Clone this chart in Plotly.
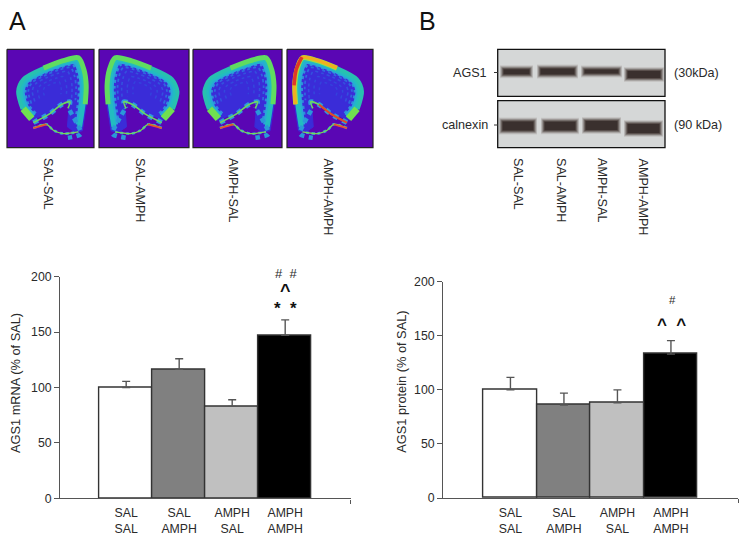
import plotly.graph_objects as go

W, H = 743, 536

# ---------- data ----------
groups = ["SAL<br>SAL", "SAL<br>AMPH", "AMPH<br>SAL", "AMPH<br>AMPH"]
group_pos = [0, 1, 2, 3]
bar_colors = ["#ffffff", "#808080", "#c0c0c0", "#000000"]
mrna_values = [100, 116.5, 83, 147]
mrna_errors = [5.5, 9.5, 6, 14]
protein_values = [100, 86, 88, 133]
protein_errors = [11.5, 11, 12, 12.5]
y_ticks = [0, 50, 100, 150, 200]
rotated_labels = ["SAL-SAL", "SAL-AMPH", "AMPH-SAL", "AMPH-AMPH"]

INK = "#2a2a2a"
AXIS = "#555555"
FONT = "Liberation Sans, Arial, sans-serif"

fig = go.Figure()


def bars(vals, errs, xa, ya):
    fig.add_trace(go.Bar(
        x=group_pos, y=vals, width=1, marker=dict(color=bar_colors, line=dict(color="#333333", width=1.4)),
        error_y=dict(type="data", symmetric=False, array=errs, arrayminus=[0, 0, 0, 0],
                     color="#555555", thickness=1.4, width=4),
        xaxis=xa, yaxis=ya, showlegend=False, hoverinfo="skip"))


bars(mrna_values, mrna_errors, "x", "y")
bars(protein_values, protein_errors, "x2", "y2")


# ---------- autoradiograph panels (pixel overlay) ----------
def pix(xs, ys, color, width, dash="solid"):
    fig.add_trace(go.Scatter(
        x=xs, y=ys, mode="lines", line=dict(color=color, width=width, dash=dash, shape="spline", smoothing=0.8),
        xaxis="x3", yaxis="y3", showlegend=False, hoverinfo="skip"))


cortex = [(.264, .73), (.157, .62), (.103, .43), (.169, .296), (.414, .177), (.644, .099),
          (.839, .065), (.908, .194), (.935, .364), (.923, .568), (.877, .84)]
stripe = [(.303, .745), (.494, .653), (.628, .561), (.724, .534), (.70, .60)]
lower = [(.303, .80), (.456, .762), (.533, .823), (.648, .857), (.82, .84)]
tail = [(.72, .62), (.80, .75), (.85, .86), (.70, .90)]
boxes = [(7, 94, False, False), (99, 189, True, False), (193, 282, False, False), (287, 373, True, True)]
BT, BB = 49.3, 147.7
CENTER = (.52, .42)


def seg(points, box, mirror, k=1.0):
    x0, x1 = box
    pts = [(CENTER[0] + (u - CENTER[0]) * k, CENTER[1] + (v - CENTER[1]) * k) for u, v in points]
    xs = [x0 + ((1 - u) if mirror else u) * (x1 - x0) for u, _ in pts]
    ys = [BT + v * (BB - BT) for _, v in pts]
    return xs, ys


for x0, x1, mirror, hot in boxes:
    b = (x0, x1)
    xs = [x0, x1, x1, x0, x0]
    ys = [BT, BT, BB, BB, BT]
    fig.add_trace(go.Scatter(x=xs, y=ys, mode="lines", line=dict(color="#222222", width=1.2),
                             fill="toself", fillcolor="#5a06b4", xaxis="x3", yaxis="y3",
                             showlegend=False, hoverinfo="skip"))
    cx, cy = seg(cortex + [(.80, .86), (.70, .80), (.724, .534), (.628, .561), (.494, .653), (.264, .73)], b, mirror, .97)
    fig.add_trace(go.Scatter(x=cx, y=cy, mode="lines", line=dict(color="#3a2cd8", width=1),
                             fill="toself", fillcolor="#3a2cd8", xaxis="x3", yaxis="y3",
                             showlegend=False, hoverinfo="skip"))
    for k, col, w in ((.25, "#3442dc", 1.5), (.4, "#3448dc", 1.5), (.55, "#3450de", 1.6), (.66, "#2f68e0", 1.8)):
        sx, sy = seg(cortex[1:10], b, mirror, k)
        pix(sx, sy, col, w, "dot")
    sx, sy = seg(cortex, b, mirror, .75)
    pix(sx, sy, "#2f8cdc", 3, "dot")
    sx, sy = seg(cortex, b, mirror, .82)
    pix(sx, sy, "#28a8d8", 4.5)
    sx, sy = seg(cortex, b, mirror, .88)
    pix(sx, sy, "#22bcc0", 5)
    # outer rim: blue-cyan on the lateral arc, green at the tip and on the top/medial side
    sx, sy = seg(cortex[1:5], b, mirror, .94)
    pix(sx, sy, "#28c0b0", 4)
    sx, sy = seg(cortex[:2], b, mirror, .92)
    pix(sx, sy, "#70e050", 7)
    sx, sy = seg(cortex[4:10], b, mirror, .94)
    pix(sx, sy, "#60dc60" if not hot else "#a0e040", 5)
    sx, sy = seg(stripe, b, mirror)
    pix(sx, sy, "#2f9adc", 5, "dot")
    pix(sx, sy, "#6cd860", 1.6)
    lx, ly = seg(lower, b, mirror)
    pix(lx, ly, "#2f9adc", 2.6, "dot")
    pix(lx, ly, "#78d858", 1.3)
    tx, ty = seg(tail, b, mirror)
    pix(tx, ty, "#2a98d8", 4.5, "dot")
    rx, ry = seg(lower[:2], b, mirror)
    pix(rx, ry, "#e85030", 1.8)
    if hot:
        hx, hy = seg(cortex[4:10], b, mirror, .95)
        pix(hx, hy, "#f0b020", 3.5)
        hx, hy = seg(cortex[6:9], b, mirror, .96)
        pix(hx, hy, "#e03828", 3.5)
        hx, hy = seg(stripe[:3], b, mirror)
        pix(hx, hy, "#e04828", 2.2)

# ---------- western blots ----------
blot_boxes = [(49.3, 96.3), (100.7, 147.7)]
for t, bt in blot_boxes:
    fig.add_shape(type="rect", x0=497.7, x1=665, y0=t, y1=bt, xref="x3", yref="y3", layer="below",
                  fillcolor="#d5d7d7", line=dict(color="#111111", width=1.3))

ags_lanes = [(500, 533, 71.8, 6), (537, 578, 71.5, 7), (581, 622, 71.5, 5), (624, 664, 74.5, 8)]
cal_lanes = [(499, 537, 126, 10), (541, 579, 126, 9.5), (582, 621, 125.5, 10), (624, 663, 128.5, 10)]
LAYERS = [(7, 0, "#c6c5c4"), (5, .5, "#a8a5a3"), (3, 1.5, "#7f7976"), (1.2, 2.5, "#5a504d"), (-1, 3.5, "#3a302e")]
for lanes in (ags_lanes, cal_lanes):
    for a, c, y, th in lanes:
        for extra, inset, col in LAYERS:
            fig.add_trace(go.Scatter(x=[a + inset, c - inset], y=[y, y], mode="lines",
                                     line=dict(color=col, width=max(th + extra, 1)),
                                     xaxis="x3", yaxis="y3", showlegend=False, hoverinfo="skip"))

# ---------- text ----------
ann = []


def text(x, y, s, size=12.6, xanchor="center", yanchor="middle", angle=0, color=INK):
    ann.append(dict(x=x, y=y, xref="x3", yref="y3", text=s, showarrow=False, xanchor=xanchor, yanchor=yanchor,
                    textangle=angle, font=dict(family=FONT, size=size, color=color)))


text(7, 21, "A", 25, "left", color="#111111")
text(417, 21, "B", 25, "left", color="#111111")
for x, s in zip([48, 140, 233, 328], rotated_labels):
    text(x, 156, s, 12.6, yanchor="top", angle=90)
for x, s in zip([518, 561, 602, 643], rotated_labels):
    text(x, 156, s, 12.6, yanchor="top", angle=90)
text(489, 72.5, "AGS1", 12.6, "right")
text(489.5, 125, "calnexin", 12.6, "right")
text(672, 72.5, "(30kDa)", 12.6, "left")
text(672, 125, "(90 kDa)", 12.6, "left")
text(15, 383, "AGS1 mRNA (% of SAL)", 12.8, angle=-90)
text(400.7, 382, "AGS1 protein (% of SAL)", 12.8, angle=-90)
text(285.7, 273.5, "#&nbsp;&nbsp;#", 13)
text(285.5, 291, "<b>^</b>", 18, color="#111111")
text(285.7, 308, "<b>*&nbsp;&nbsp;*</b>", 17, color="#111111")
text(672.7, 300, "#", 11.5)
text(671.7, 324, "<b>^&nbsp;&nbsp;^</b>", 17, color="#111111")

for y in (72.5, 125):
    fig.add_shape(type="line", x0=494, x1=498, y0=y, y1=y, xref="x3", yref="y3", line=dict(color="#333333", width=1))


def xaxis(px0, px1, left, right):
    return dict(domain=[px0 / W, px1 / W], range=[left, right], tickvals=group_pos, ticktext=groups,
                ticks="", ticklabelstandoff=3, showgrid=False, zeroline=False, showline=True, automargin=False,
                linecolor=AXIS, linewidth=1.4, tickfont=dict(family=FONT, size=12.3, color=INK),
                minor=dict(tickvals=[right], ticks="outside", ticklen=4, tickcolor=AXIS, tickwidth=1.2))


def yaxis(px_top, px_bot, anchor):
    return dict(domain=[(H - px_bot) / H, (H - px_top) / H], range=[0, 200], tickvals=y_ticks, ticks="outside",
                ticklen=5, tickcolor=AXIS, tickwidth=1.2, showgrid=False, zeroline=False, showline=True,
                automargin=False, linecolor=AXIS, linewidth=1.4, anchor=anchor,
                tickfont=dict(family=FONT, size=12.3, color=INK))


fig.update_layout(
    width=W, height=H, margin=dict(l=0, r=0, t=0, b=0), paper_bgcolor="white", plot_bgcolor="rgba(0,0,0,0)",
    barmode="overlay", bargap=0, showlegend=False, annotations=ann,
    xaxis=dict(anchor="y", **xaxis(60.3, 350.7, -1.243, 4.236)),
    yaxis=yaxis(276.7, 498.3, "x"),
    xaxis2=dict(anchor="y2", **xaxis(443.3, 738.3, -1.255, 4.259)),
    yaxis2=yaxis(281.7, 498, "x2"),
    xaxis3=dict(domain=[0, 1], range=[0, W], visible=False, anchor="y3", fixedrange=True, automargin=False),
    yaxis3=dict(domain=[0, 1], range=[H, 0], visible=False, anchor="x3", fixedrange=True, automargin=False),
)

fig.write_html("out.html", config=dict(displayModeBar=False),
               post_script="document.body.style.margin='0';document.documentElement.style.overflow='hidden';")
